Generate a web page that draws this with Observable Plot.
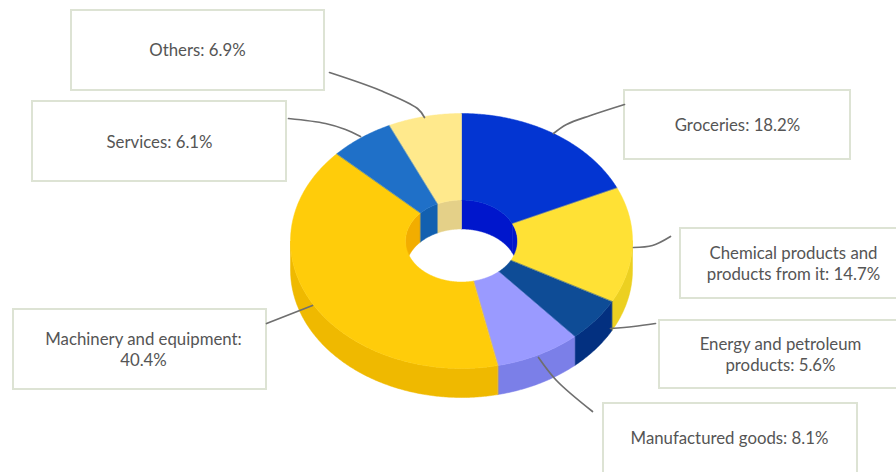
<!DOCTYPE html>
<html>
<head>
<meta charset="utf-8">
<script src="https://cdn.jsdelivr.net/npm/d3@7"></script>
<script src="https://cdn.jsdelivr.net/npm/@observablehq/plot@0.6"></script>
<style>
  html, body { margin: 0; padding: 0; background: #fff; }
  svg { display: block; overflow: hidden; }
</style>
</head>
<body>
<div id="chart"></div>
<script>
// Share of each product group, percent, clockwise from twelve o'clock
const names = [
  "Groceries",
  "Chemical products and\nproducts from it",
  "Energy and petroleum\nproducts",
  "Manufactured goods",
  "Machinery and equipment",
  "Services",
  "Others"
];
const shares = [18.2, 14.7, 5.6, 8.1, 40.4, 6.1, 6.9];
const breakAfterColon = [false, false, false, false, true, false, false];

// Colours of the three kinds of face
const topColors = ["#0335d2", "#ffe135", "#0e4c96", "#9a9aff", "#ffcc0a", "#1f70c8", "#ffe98c"];
const sideColors = ["#0227b0", "#ecd021", "#033080", "#7b7fe8", "#efb900", "#155aa8", "#e6d07c"];
const wallColors = ["#0016cc", "#0016cc", "#033080", "#7b7fe8", "#f2ad00", "#1260b0", "#e4d088"];

// Tilted ring: ellipse radii of the rim and the hole, and the thickness
const ring = {cx: 461, cy: 240.5, rx: 171, ry: 127.5, holeRx: 56, holeRy: 41, depth: 29};

// Label boxes [left, top, right, bottom] and text anchor
const boxes = [
  [624, 90, 850, 159, 737, 124],
  [680, 228, 900, 298, 793, 262],
  [659, 320, 900, 388, 780, 353],
  [603, 403, 857, 474, 729, 437],
  [13, 309, 266, 389, 143, 348],
  [32, 101, 286, 181, 159, 141],
  [71, 10, 324, 90, 197, 49]
];

// Leader lines from each box to its slice
const leaders = [
  [[624, 104], [590, 115], [566, 124], [553, 133]],
  [[670, 236], [652, 245], [633, 247]],
  [[655, 323], [633, 326], [610, 328]],
  [[592, 411], [556, 380], [538, 357]],
  [[266, 323], [312, 305]],
  [[288, 118], [325, 123], [345, 129], [360, 136]],
  [[329, 72], [380, 90], [417, 108], [424, 117]]
];

const slices = d3.pie().sort(null).value(d => d)(shares);

const rimPoint = (t, rx, ry, dy = 0) => ({
  x: ring.cx + rx * Math.sin(t),
  y: ring.cy - ry * Math.cos(t) + dy
});
const arcSamples = (a, b) => {
  const n = Math.max(1, Math.ceil((b - a) / 0.01));
  return d3.range(n + 1).map(i => a + (b - a) * i / n);
};

// A closed outline per face, in paint order
const faces = [];
const addFace = (id, fill, outline) => outline.forEach(p => faces.push({...p, id, fill}));

// Part of [a, b] that lies in [lo, hi], trying one full turn either way
const overlap = (a, b, lo, hi) =>
  [-2 * Math.PI, 0, 2 * Math.PI]
    .map(k => [Math.max(a, lo + k), Math.min(b, hi + k)])
    .filter(([p, q]) => q > p);

slices.forEach((s, i) => {
  // Outer wall: only the half that faces the viewer
  overlap(s.startAngle, s.endAngle, Math.PI / 2, 3 * Math.PI / 2).forEach(([p, q], k) => {
    const ts = arcSamples(p, q);
    addFace(`side-${i}-${k}`, sideColors[i], [
      ...ts.map(t => rimPoint(t, ring.rx, ring.ry)),
      ...ts.slice().reverse().map(t => rimPoint(t, ring.rx, ring.ry, ring.depth))
    ]);
  });
  // Wall of the hole: only the far half is visible
  overlap(s.startAngle, s.endAngle, -Math.PI / 2, Math.PI / 2).forEach(([p, q], k) => {
    const ts = arcSamples(p, q);
    addFace(`wall-${i}-${k}`, wallColors[i], [
      ...ts.map(t => rimPoint(t, ring.holeRx, ring.holeRy)),
      ...ts.slice().reverse().map(t => rimPoint(t, ring.holeRx, ring.holeRy, ring.depth))
    ]);
  });
});
slices.forEach((s, i) => {
  const ts = arcSamples(s.startAngle, s.endAngle);
  addFace(`top-${i}`, topColors[i], [
    ...ts.map(t => rimPoint(t, ring.rx, ring.ry)),
    ...ts.slice().reverse().map(t => rimPoint(t, ring.holeRx, ring.holeRy))
  ]);
});

const labels = names.map((name, i) =>
  `${name}:${breakAfterColon[i] ? "\n" : " "}${shares[i].toFixed(1)}%`
);
const callouts = boxes.map((b, i) => ({
  x1: b[0], y1: b[1], x2: b[2], y2: b[3], tx: b[4], ty: b[5], label: labels[i]
}));
const leaderPoints = leaders.flatMap((pts, i) => pts.map(([x, y]) => ({x, y, i})));

const chart = Plot.plot({
  width: 896,
  height: 472,
  margin: 0,
  x: {domain: [0, 896], axis: null},
  y: {domain: [472, 0], axis: null},
  color: {type: "identity"},
  style: {background: "#fff", fontFamily: "Lato, sans-serif"},
  marks: [
    Plot.rect(callouts, {
      x1: "x1", y1: "y1", x2: "x2", y2: "y2",
      fill: "#fff", stroke: "#dde3d4", strokeWidth: 2
    }),
    Plot.line(faces, {
      x: "x", y: "y", z: "id", fill: "fill", stroke: "fill",
      strokeWidth: 0.5, curve: "linear-closed"
    }),
    Plot.line(leaderPoints, {
      x: "x", y: "y", z: "i", stroke: "#6f6f6f", strokeWidth: 1.7, curve: "catmull-rom"
    }),
    Plot.text(callouts, {
      x: "tx", y: "ty", text: "label", fill: "#555", fontSize: 16.8, lineHeight: 1.25
    })
  ]
});
document.getElementById("chart").append(chart);
</script>
</body>
</html>
